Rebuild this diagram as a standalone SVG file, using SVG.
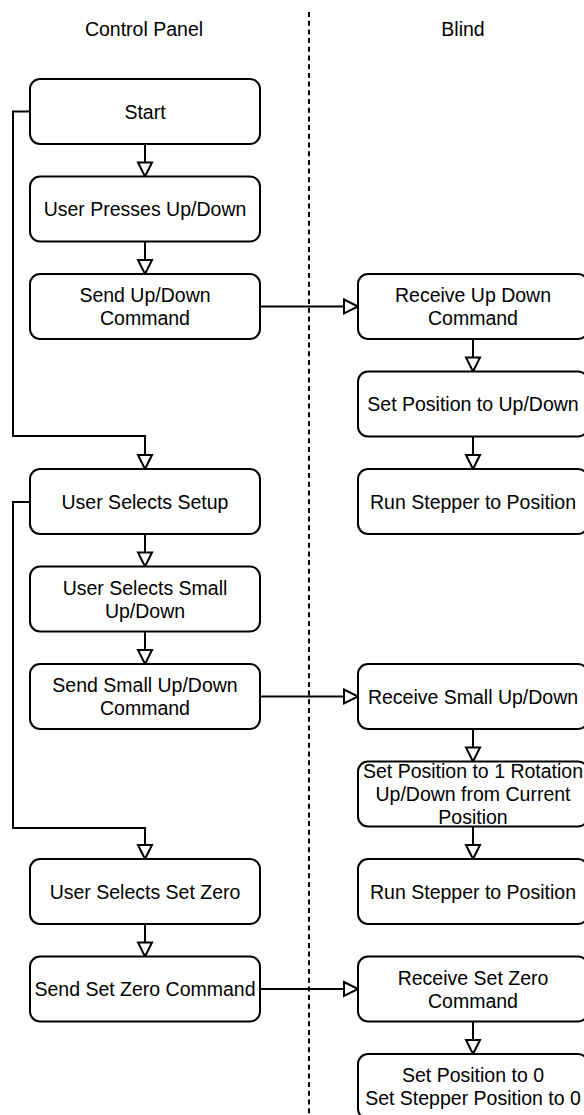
<svg xmlns="http://www.w3.org/2000/svg" width="584" height="1115" viewBox="0 0 584 1115">
<style>
.box{fill:#fff;stroke:#000;stroke-width:2}
.t{font-family:"Liberation Sans",Arial,sans-serif;font-size:19.5px;fill:#000;text-anchor:middle}
.c{fill:none;stroke:#000;stroke-width:2}
</style>
<defs>
<marker id="a" markerUnits="userSpaceOnUse" markerWidth="20" markerHeight="20" refX="14" refY="7" orient="auto" overflow="visible">
<path d="M0,0 L14,7 L0,14 Z" fill="#fff" stroke="#000" stroke-width="2" stroke-linejoin="miter"/>
</marker>
</defs>
<rect width="584" height="1115" fill="#fff"/>
<g id="lanes">
<line x1="309" y1="12" x2="309" y2="1115" stroke="#000" stroke-width="2" stroke-dasharray="5 3.7"/>
<text class="t" x="144" y="36">Control Panel</text>
<text class="t" x="463" y="36">Blind</text>
</g>
<g id="connectors">
<path class="c" d="M30,111.5 H13 V436 H145 V469" marker-end="url(#a)"/>
<path class="c" d="M30,502 H13 V828 H145 V859" marker-end="url(#a)"/>
<path class="c" d="M145,144 V176.5" marker-end="url(#a)"/>
<path class="c" d="M145,241.5 V274" marker-end="url(#a)"/>
<path class="c" d="M145,534 V566.5" marker-end="url(#a)"/>
<path class="c" d="M145,631.5 V664" marker-end="url(#a)"/>
<path class="c" d="M145,924 V956.5" marker-end="url(#a)"/>
<path class="c" d="M473,339 V371.5" marker-end="url(#a)"/>
<path class="c" d="M473,436.5 V469" marker-end="url(#a)"/>
<path class="c" d="M473,729 V761.5" marker-end="url(#a)"/>
<path class="c" d="M473,826.5 V859" marker-end="url(#a)"/>
<path class="c" d="M473,1021.5 V1054" marker-end="url(#a)"/>
<path class="c" d="M260,306.5 H358" marker-end="url(#a)"/>
<path class="c" d="M260,696.5 H358" marker-end="url(#a)"/>
<path class="c" d="M260,989 H358" marker-end="url(#a)"/>
</g>
<g id="start"><rect class="box" x="30" y="79" width="230" height="65" rx="10"/><text class="t" x="145" y="118.5">Start</text></g>
<g id="user-presses"><rect class="box" x="30" y="176.5" width="230" height="65" rx="10"/><text class="t" x="145" y="216">User Presses Up/Down</text></g>
<g id="send-updown"><rect class="box" x="30" y="274" width="230" height="65" rx="10"/><text class="t" x="145" y="302">Send Up/Down</text><text class="t" x="145" y="325.4">Command</text></g>
<g id="user-setup"><rect class="box" x="30" y="469" width="230" height="65" rx="10"/><text class="t" x="145" y="508.5">User Selects Setup</text></g>
<g id="user-small"><rect class="box" x="30" y="566.5" width="230" height="65" rx="10"/><text class="t" x="145" y="594.5">User Selects Small</text><text class="t" x="145" y="617.9">Up/Down</text></g>
<g id="send-small"><rect class="box" x="30" y="664" width="230" height="65" rx="10"/><text class="t" x="145" y="692">Send Small Up/Down</text><text class="t" x="145" y="715.4">Command</text></g>
<g id="user-zero"><rect class="box" x="30" y="859" width="230" height="65" rx="10"/><text class="t" x="145" y="898.5">User Selects Set Zero</text></g>
<g id="send-zero"><rect class="box" x="30" y="956.5" width="230" height="65" rx="10"/><text class="t" x="145" y="996">Send Set Zero Command</text></g>
<g id="recv-updown"><rect class="box" x="358" y="274" width="230" height="65" rx="10"/><text class="t" x="473" y="302">Receive Up Down</text><text class="t" x="473" y="325.4">Command</text></g>
<g id="set-pos-updown"><rect class="box" x="358" y="371.5" width="230" height="65" rx="10"/><text class="t" x="473" y="411">Set Position to Up/Down</text></g>
<g id="run-stepper-1"><rect class="box" x="358" y="469" width="230" height="65" rx="10"/><text class="t" x="473" y="508.5">Run Stepper to Position</text></g>
<g id="recv-small"><rect class="box" x="358" y="664" width="230" height="65" rx="10"/><text class="t" x="473" y="703.5">Receive Small Up/Down</text></g>
<g id="set-pos-rot"><rect class="box" x="358" y="761.5" width="230" height="65" rx="10"/><text class="t" x="473" y="777.6">Set Position to 1 Rotation</text><text class="t" x="473" y="801">Up/Down from Current</text><text class="t" x="473" y="824.4">Position</text></g>
<g id="run-stepper-2"><rect class="box" x="358" y="859" width="230" height="65" rx="10"/><text class="t" x="473" y="898.5">Run Stepper to Position</text></g>
<g id="recv-zero"><rect class="box" x="358" y="956.5" width="230" height="65" rx="10"/><text class="t" x="473" y="984.5">Receive Set Zero</text><text class="t" x="473" y="1007.9">Command</text></g>
<g id="set-zero"><rect class="box" x="358" y="1054" width="230" height="65" rx="10"/><text class="t" x="473" y="1082">Set Position to 0</text><text class="t" x="473" y="1105.4">Set Stepper Position to 0</text></g>
</svg>
